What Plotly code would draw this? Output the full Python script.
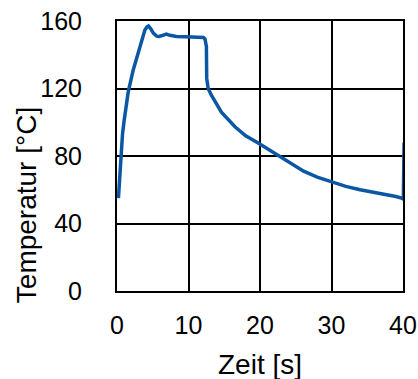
import plotly.graph_objects as go

zeit = [0.2, 0.3, 0.4, 0.53, 0.77, 1.0, 1.2, 1.57, 2.27, 3.2, 3.9, 4.2, 4.4, 4.7,
        5.08, 5.55, 5.9, 6.4, 6.9, 7.4, 8.3, 9.5, 10.5, 11.6, 12.1, 12.3, 12.45, 12.5,
        12.55, 12.75, 13.2, 14.6, 16.5, 18.0, 19.8, 22.4, 24.0, 26.1, 28.0, 30.1,
        32.0, 34.0, 36.0, 37.3, 39.0, 39.8, 40.05, 40.15]
temperatur = [55, 62, 68, 79.5, 93, 101, 107, 118, 131, 145, 154.7, 156.5, 157, 155.5,
              152.8, 151, 150.8, 151.5, 152.2, 151.5, 150.8, 150.7, 150.5, 150.4, 150.2, 149.4,
              147, 145, 126, 120, 116, 106, 97.3, 92, 87.5, 80.5, 76.5, 71, 67.5, 64.5,
              62, 60, 58.5, 57.5, 56, 55, 54.5, 88]

x_ticks = [0, 10, 20, 30, 40]
y_ticks = [0, 40, 80, 120, 160]

fig = go.Figure()
fig.add_trace(go.Scatter(x=zeit, y=temperatur, mode="lines",
                         line=dict(color="#0b57a4", width=3.5), showlegend=False,
                         hoverinfo="skip"))

font = "Liberation Sans, Arial, sans-serif"
axis_common = dict(showgrid=True, gridcolor="black", gridwidth=2,
                   showline=True, linecolor="black", linewidth=2, mirror=True,
                   zeroline=False, ticks="", automargin=False,
                   tickfont=dict(family=font, size=25, color="black"))

fig.update_xaxes(range=[0, 40], tickvals=x_ticks, ticktext=[str(v) for v in x_ticks],
                 ticklabelstandoff=11, **axis_common)
fig.update_yaxes(range=[0, 160], tickvals=y_ticks, ticktext=[str(v) for v in y_ticks],
                 ticklabelstandoff=28, **axis_common)

fig.add_annotation(text="Temperatur [°C]", textangle=-90, xref="paper", yref="paper",
                   x=-0.318, y=0.318, xanchor="center", yanchor="middle", showarrow=False,
                   font=dict(family=font, size=28, color="black"))
fig.add_annotation(text="Zeit [s]", xref="paper", yref="paper",
                   x=0.5, y=-0.274, xanchor="center", yanchor="middle", showarrow=False,
                   font=dict(family=font, size=28, color="black"))

fig.update_layout(width=418, height=379, margin=dict(l=117, r=15, t=21, b=88),
                  plot_bgcolor="white", paper_bgcolor="white", hovermode=False)

fig.write_html("out.html", config={"displayModeBar": False, "staticPlot": True},
               post_script="document.body.style.margin='0';document.body.style.overflow='hidden';")
